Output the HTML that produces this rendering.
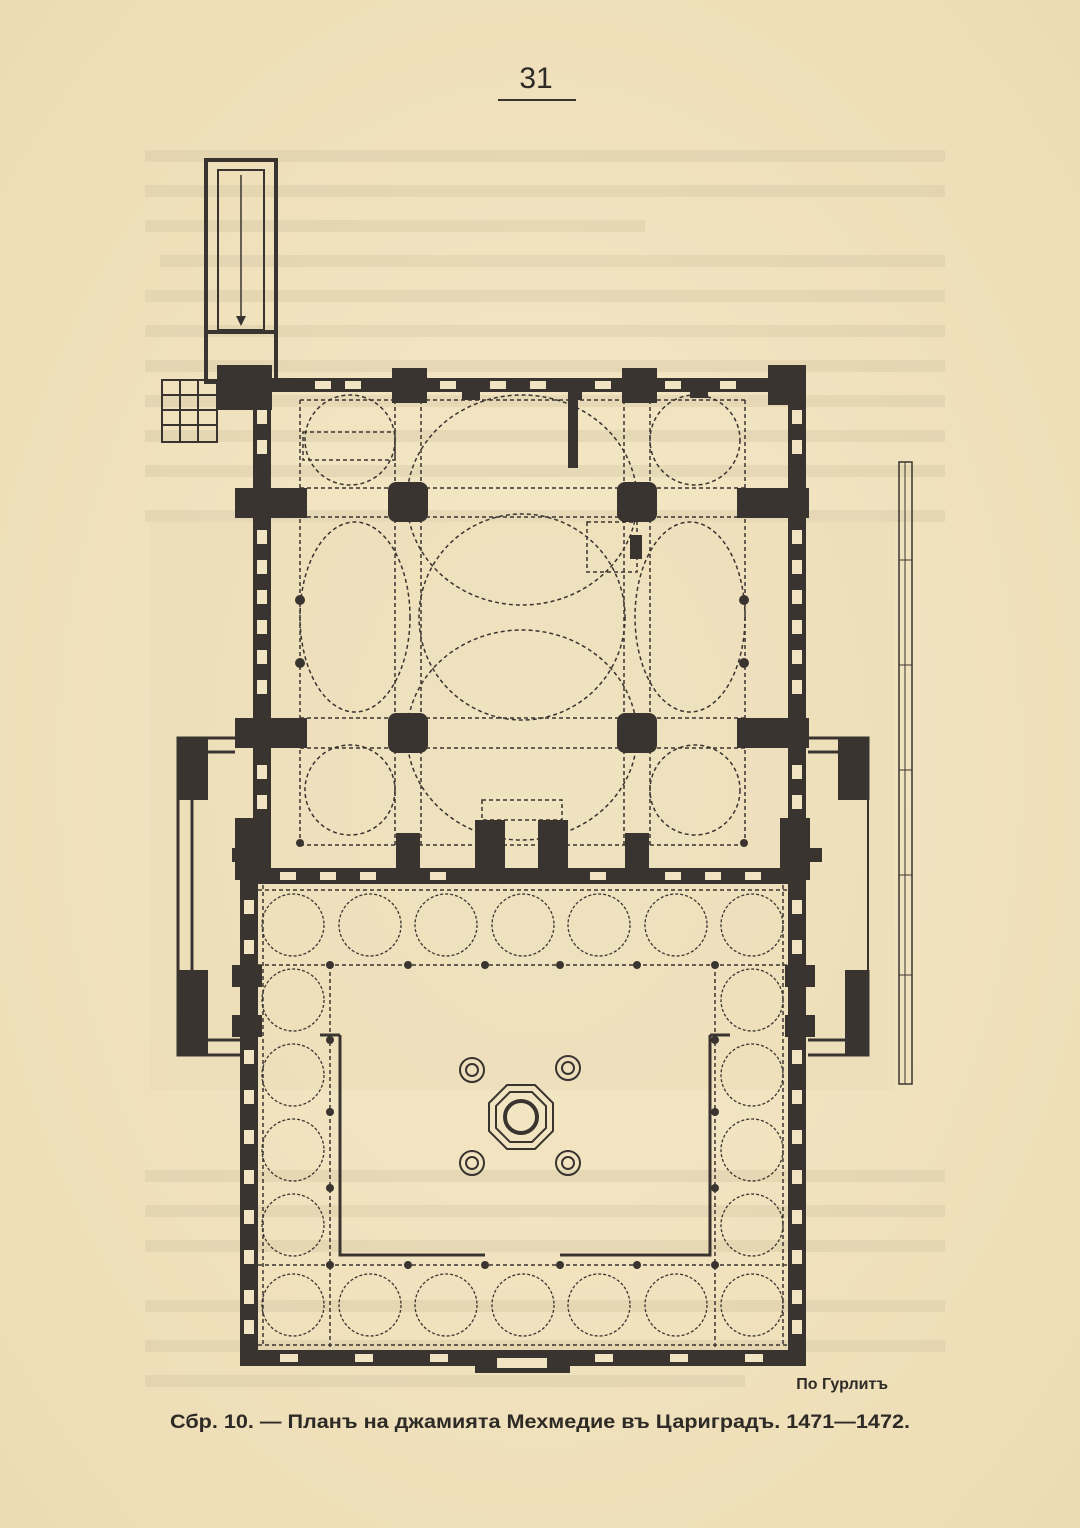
<!DOCTYPE html>
<html><head><meta charset="utf-8"><style>
html,body{margin:0;padding:0;background:#f3e6c4;}
.pg{position:relative;width:1080px;height:1528px;overflow:hidden;background:#f3e6c4;font-family:"Liberation Sans",sans-serif;}
svg{position:absolute;left:0;top:0;}
</style></head><body><div class="pg">
<svg width="1080" height="1528" viewBox="0 0 1080 1528">
<defs>
<radialGradient id="bg" cx="50%" cy="50%" r="70%"><stop offset="0" stop-color="#f5e9c8"/><stop offset="1" stop-color="#ecdcb4"/></radialGradient>
</defs>
<rect width="1080" height="1528" fill="url(#bg)"/>
<!-- bleed-through text -->
<g fill="#d6c8a4" opacity="0.4">
<rect x="145" y="150" width="800" height="12"/><rect x="145" y="185" width="800" height="12"/><rect x="145" y="220" width="500" height="12"/>
<rect x="160" y="255" width="785" height="12"/><rect x="145" y="290" width="800" height="12"/><rect x="145" y="325" width="800" height="12"/>
<rect x="145" y="360" width="800" height="12"/><rect x="145" y="395" width="800" height="12"/><rect x="145" y="430" width="800" height="12"/>
<rect x="145" y="465" width="800" height="12"/><rect x="145" y="510" width="800" height="12"/>
<rect x="145" y="1170" width="800" height="12"/><rect x="145" y="1205" width="800" height="12"/><rect x="145" y="1240" width="800" height="12"/>
<rect x="145" y="1300" width="800" height="12"/><rect x="145" y="1340" width="800" height="12"/><rect x="145" y="1375" width="600" height="12"/>
</g>
<rect x="150" y="520" width="745" height="570" fill="#e9dcb6" opacity="0.5"/>
<!-- page number -->
<text x="536" y="88" font-family="Liberation Sans" font-size="30" fill="#2e2a26" text-anchor="middle">31</text>
<line x1="498" y1="100" x2="576" y2="100" stroke="#3a3430" stroke-width="2"/>

<g fill="#3a3430" stroke="#3a3430">
<!-- minaret -->
<rect x="206" y="160" width="70" height="222" fill="none" stroke-width="4"/>
<rect x="218" y="170" width="46" height="160" fill="none" stroke-width="2"/>
<line x1="241" y1="175" x2="241" y2="322" stroke-width="1.5"/>
<polygon points="236,316 246,316 241,326" stroke="none"/>
<rect x="206" y="330" width="70" height="4" stroke="none"/>
<!-- stair left -->
<g fill="none" stroke-width="2"><rect x="162" y="380" width="55" height="62"/>
<line x1="162" y1="395" x2="217" y2="395"/><line x1="162" y1="410" x2="217" y2="410"/><line x1="162" y1="425" x2="217" y2="425"/>
<line x1="180" y1="380" x2="180" y2="442"/><line x1="198" y1="380" x2="198" y2="442"/></g>
<rect x="217" y="365" width="55" height="45" stroke="none"/>

<!-- prayer hall walls -->
<g stroke="none">
<rect x="255" y="378" width="550" height="14"/>
<rect x="253" y="378" width="18" height="500"/>
<rect x="788" y="365" width="18" height="513"/>
<rect x="240" y="868" width="566" height="16"/>
<rect x="392" y="368" width="35" height="35"/><rect x="622" y="368" width="35" height="35"/>
<rect x="462" y="378" width="18" height="22"/><rect x="568" y="378" width="14" height="22"/><rect x="690" y="378" width="18" height="20"/>
<rect x="768" y="365" width="38" height="40"/>
<rect x="235" y="488" width="72" height="30"/><rect x="737" y="488" width="72" height="30"/>
<rect x="235" y="718" width="72" height="30"/><rect x="737" y="718" width="72" height="30"/>
<rect x="235" y="818" width="35" height="62"/><rect x="780" y="818" width="30" height="62"/>
<rect x="396" y="833" width="24" height="50"/><rect x="475" y="820" width="30" height="63"/><rect x="538" y="820" width="30" height="63"/><rect x="625" y="833" width="24" height="50"/>
<rect x="568" y="400" width="10" height="68"/>
<rect x="388" y="482" width="40" height="40" rx="8"/><rect x="617" y="482" width="40" height="40" rx="8"/>
<rect x="388" y="713" width="40" height="40" rx="8"/><rect x="617" y="713" width="40" height="40" rx="8"/>
</g>
<g fill="#f1e4c2" stroke="none">
<rect x="257" y="410" width="10" height="14"/><rect x="257" y="440" width="10" height="14"/><rect x="257" y="530" width="10" height="14"/><rect x="257" y="560" width="10" height="14"/><rect x="257" y="590" width="10" height="14"/><rect x="257" y="620" width="10" height="14"/><rect x="257" y="650" width="10" height="14"/><rect x="257" y="680" width="10" height="14"/><rect x="257" y="765" width="10" height="14"/><rect x="257" y="795" width="10" height="14"/>
<rect x="792" y="410" width="10" height="14"/><rect x="792" y="440" width="10" height="14"/><rect x="792" y="530" width="10" height="14"/><rect x="792" y="560" width="10" height="14"/><rect x="792" y="590" width="10" height="14"/><rect x="792" y="620" width="10" height="14"/><rect x="792" y="650" width="10" height="14"/><rect x="792" y="680" width="10" height="14"/><rect x="792" y="765" width="10" height="14"/><rect x="792" y="795" width="10" height="14"/>
<rect x="315" y="381" width="16" height="8"/><rect x="345" y="381" width="16" height="8"/><rect x="440" y="381" width="16" height="8"/><rect x="490" y="381" width="16" height="8"/><rect x="530" y="381" width="16" height="8"/><rect x="595" y="381" width="16" height="8"/><rect x="665" y="381" width="16" height="8"/><rect x="720" y="381" width="16" height="8"/>
<rect x="280" y="872" width="16" height="8"/><rect x="320" y="872" width="16" height="8"/><rect x="360" y="872" width="16" height="8"/><rect x="430" y="872" width="16" height="8"/><rect x="590" y="872" width="16" height="8"/><rect x="665" y="872" width="16" height="8"/><rect x="705" y="872" width="16" height="8"/><rect x="745" y="872" width="16" height="8"/>
</g>
<g fill="none" stroke-width="1.5" stroke-dasharray="4 3">
<line x1="300" y1="488" x2="745" y2="488"/><line x1="300" y1="517" x2="745" y2="517"/>
<line x1="300" y1="718" x2="745" y2="718"/><line x1="300" y1="748" x2="745" y2="748"/>
<line x1="300" y1="400" x2="300" y2="845"/><line x1="745" y1="400" x2="745" y2="845"/>
<line x1="395" y1="400" x2="395" y2="845"/><line x1="421" y1="400" x2="421" y2="845"/>
<line x1="624" y1="400" x2="624" y2="845"/><line x1="650" y1="400" x2="650" y2="845"/>
<line x1="300" y1="845" x2="745" y2="845"/><line x1="300" y1="400" x2="745" y2="400"/>
<rect x="303" y="432" width="92" height="28"/>
<circle cx="522" cy="617" r="103"/>
<circle cx="350" cy="440" r="45"/><circle cx="695" cy="440" r="45"/>
<circle cx="350" cy="790" r="45"/><circle cx="695" cy="790" r="45"/>
<ellipse cx="522" cy="500" rx="115" ry="105"/><ellipse cx="522" cy="735" rx="115" ry="105"/>
<ellipse cx="355" cy="617" rx="55" ry="95"/><ellipse cx="690" cy="617" rx="55" ry="95"/>
<rect x="587" y="522" width="50" height="50"/><rect x="482" y="800" width="80" height="20"/>
</g>
<g stroke="none"><circle cx="300" cy="600" r="5"/><circle cx="300" cy="663" r="5"/><circle cx="744" cy="600" r="5"/><circle cx="744" cy="663" r="5"/><circle cx="300" cy="843" r="4"/><circle cx="744" cy="843" r="4"/><rect x="630" y="535" width="12" height="24"/></g>

<g fill="none" stroke-width="3">
<path d="M235 738 L178 738 L178 1055 L240 1055"/><path d="M235 752 L192 752 L192 1040 L240 1040"/>
<path d="M808 738 L868 738 L868 800 M868 970 L868 1055 L808 1055"/><path d="M808 752 L854 752 L854 800 M854 970 L854 1040 L808 1040"/>
<path d="M178 800 L178 970" stroke-width="2"/><path d="M868 800 L868 970" stroke-width="2"/>
</g>
<g stroke="none"><rect x="178" y="738" width="30" height="62"/><rect x="838" y="738" width="30" height="62"/><rect x="178" y="970" width="30" height="85"/><rect x="845" y="970" width="23" height="85"/>
<rect x="232" y="848" width="14" height="14"/><rect x="808" y="848" width="14" height="14"/></g>

<g stroke="none">
<rect x="240" y="880" width="18" height="485"/><rect x="788" y="880" width="18" height="485"/>
<rect x="240" y="1350" width="566" height="16"/>
<rect x="475" y="1355" width="95" height="18"/>
<rect x="232" y="965" width="30" height="22"/><rect x="785" y="965" width="30" height="22"/>
<rect x="232" y="1015" width="30" height="22"/><rect x="785" y="1015" width="30" height="22"/>
</g>
<g fill="#f1e4c2" stroke="none">
<rect x="244" y="900" width="10" height="14"/><rect x="244" y="940" width="10" height="14"/><rect x="244" y="1050" width="10" height="14"/><rect x="244" y="1090" width="10" height="14"/><rect x="244" y="1130" width="10" height="14"/><rect x="244" y="1170" width="10" height="14"/><rect x="244" y="1210" width="10" height="14"/><rect x="244" y="1250" width="10" height="14"/><rect x="244" y="1290" width="10" height="14"/><rect x="244" y="1320" width="10" height="14"/>
<rect x="792" y="900" width="10" height="14"/><rect x="792" y="940" width="10" height="14"/><rect x="792" y="1050" width="10" height="14"/><rect x="792" y="1090" width="10" height="14"/><rect x="792" y="1130" width="10" height="14"/><rect x="792" y="1170" width="10" height="14"/><rect x="792" y="1210" width="10" height="14"/><rect x="792" y="1250" width="10" height="14"/><rect x="792" y="1290" width="10" height="14"/><rect x="792" y="1320" width="10" height="14"/>
<rect x="280" y="1354" width="18" height="8"/><rect x="355" y="1354" width="18" height="8"/><rect x="430" y="1354" width="18" height="8"/><rect x="595" y="1354" width="18" height="8"/><rect x="670" y="1354" width="18" height="8"/><rect x="745" y="1354" width="18" height="8"/>
<rect x="497" y="1358" width="50" height="10"/>
</g>
<g fill="none" stroke-width="3">
<path d="M340 1035 L340 1255 L485 1255 M560 1255 L710 1255 L710 1035" />
<path d="M340 1035 L320 1035 M710 1035 L730 1035"/>
</g>
<g fill="none" stroke-width="1.5" stroke-dasharray="4 3">
<line x1="258" y1="965" x2="788" y2="965"/><line x1="258" y1="1265" x2="788" y2="1265"/>
<line x1="330" y1="965" x2="330" y2="1350"/><line x1="715" y1="965" x2="715" y2="1350"/>
<line x1="258" y1="890" x2="788" y2="890"/><line x1="258" y1="1345" x2="788" y2="1345"/>
<line x1="263" y1="885" x2="263" y2="1345"/><line x1="783" y1="885" x2="783" y2="1345"/>
</g>
<g fill="none" stroke-width="1.3" stroke-dasharray="3 2">
<circle cx="293" cy="925" r="31"/><circle cx="370" cy="925" r="31"/><circle cx="446" cy="925" r="31"/><circle cx="523" cy="925" r="31"/><circle cx="599" cy="925" r="31"/><circle cx="676" cy="925" r="31"/><circle cx="752" cy="925" r="31"/>
<circle cx="293" cy="1305" r="31"/><circle cx="370" cy="1305" r="31"/><circle cx="446" cy="1305" r="31"/><circle cx="523" cy="1305" r="31"/><circle cx="599" cy="1305" r="31"/><circle cx="676" cy="1305" r="31"/><circle cx="752" cy="1305" r="31"/>
<circle cx="293" cy="1000" r="31"/><circle cx="293" cy="1075" r="31"/><circle cx="293" cy="1150" r="31"/><circle cx="293" cy="1225" r="31"/>
<circle cx="752" cy="1000" r="31"/><circle cx="752" cy="1075" r="31"/><circle cx="752" cy="1150" r="31"/><circle cx="752" cy="1225" r="31"/>
</g>
<g stroke="none">
<circle cx="330" cy="965" r="4"/><circle cx="408" cy="965" r="4"/><circle cx="485" cy="965" r="4"/><circle cx="560" cy="965" r="4"/><circle cx="637" cy="965" r="4"/><circle cx="715" cy="965" r="4"/>
<circle cx="330" cy="1265" r="4"/><circle cx="408" cy="1265" r="4"/><circle cx="485" cy="1265" r="4"/><circle cx="560" cy="1265" r="4"/><circle cx="637" cy="1265" r="4"/><circle cx="715" cy="1265" r="4"/>
<circle cx="330" cy="1040" r="4"/><circle cx="330" cy="1112" r="4"/><circle cx="330" cy="1188" r="4"/><circle cx="715" cy="1040" r="4"/><circle cx="715" cy="1112" r="4"/><circle cx="715" cy="1188" r="4"/>
</g>
<g fill="none" stroke-width="2">
<polygon points="507,1085 535,1085 553,1103 553,1131 535,1149 507,1149 489,1131 489,1103"/>
<polygon points="510,1092 532,1092 546,1106 546,1128 532,1142 510,1142 496,1128 496,1106"/>
<circle cx="521" cy="1117" r="16" stroke-width="4"/>
<circle cx="472" cy="1070" r="12"/><circle cx="472" cy="1070" r="6"/>
<circle cx="568" cy="1068" r="12"/><circle cx="568" cy="1068" r="6"/>
<circle cx="472" cy="1163" r="12"/><circle cx="472" cy="1163" r="6"/>
<circle cx="568" cy="1163" r="12"/><circle cx="568" cy="1163" r="6"/>
</g>
<rect x="899" y="462" width="13" height="622" fill="none" stroke-width="1.5"/>
<line x1="905" y1="462" x2="905" y2="1084" stroke-width="1"/>
<g stroke-width="1"><line x1="899" y1="560" x2="912" y2="560"/><line x1="899" y1="665" x2="912" y2="665"/><line x1="899" y1="770" x2="912" y2="770"/><line x1="899" y1="875" x2="912" y2="875"/><line x1="899" y1="975" x2="912" y2="975"/></g>
</g>
<text x="888" y="1389" font-family="Liberation Sans" font-size="16" font-weight="bold" fill="#2e2a26" text-anchor="end">По Гурлитъ</text>
<text x="170" y="1428" font-family="Liberation Sans" font-size="19" font-weight="bold" fill="#2e2a26" textLength="740" lengthAdjust="spacingAndGlyphs">Сбр. 10. — Планъ на джамията Мехмедие въ Цариградъ. 1471—1472.</text>
</svg>
</div></body></html>
